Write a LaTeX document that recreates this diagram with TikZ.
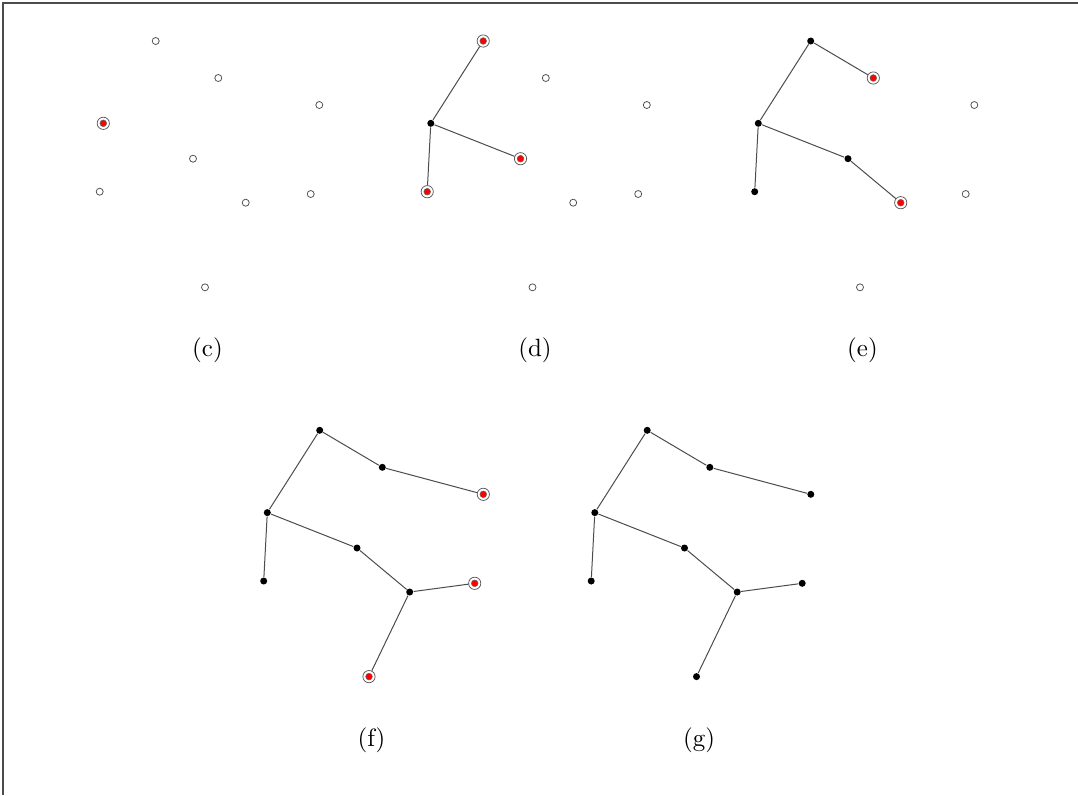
\documentclass[tikz,border=0pt]{standalone}
\begin{document}
\begin{tikzpicture}[x=0.4pt,y=-0.4pt,
  open/.style={circle,draw=black!70,fill=white,line width=0.3pt,inner sep=0pt,minimum size=2.8pt},
  blk/.style={circle,fill=black,inner sep=0pt,minimum size=2.8pt},
  sel/.style={circle,draw=black!65,line width=0.3pt,inner sep=0pt,minimum size=4.9pt,
    path picture={\fill[red,draw=black!60,line width=0.2pt] (path picture bounding box.center) circle (1.35pt);}},
  conn/.style={draw=black!70,line width=0.4pt},
  caplbl/.style={font=\normalsize}]
\useasboundingbox (0,0) rectangle (1078,795);
\draw[line width=0.8pt,black!70] (2.5,795) -- (2.5,3) -- (1078,3);
\def\pts{1/155.7/41, 2/218.3/78, 3/319.3/105, 4/103.3/123.3, 5/193/158.7, 6/99.7/191.7, 7/245.7/202.7, 8/310.7/194, 9/205/287.3}
% (c)
\begin{scope}[s1/.style=open,s2/.style=open,s3/.style=open,s4/.style=sel,s5/.style=open,s6/.style=open,s7/.style=open,s8/.style=open,s9/.style=open]
  \foreach \i/\x/\y in \pts {\node[s\i] (c\i) at (\x,\y) {};}
  \node[caplbl] (lc) at (207.5,350) {(c)};
\end{scope}
% (d)
\begin{scope}[shift={(327.5,0)},s1/.style=sel,s2/.style=open,s3/.style=open,s4/.style=blk,s5/.style=sel,s6/.style=sel,s7/.style=open,s8/.style=open,s9/.style=open]
  \foreach \i/\x/\y in \pts {\node[s\i] (d\i) at (\x,\y) {};}
  \node[caplbl] (ld) at (207.5,350) {(d)};
\end{scope}
\draw[conn] (d4) -- (d1);
\draw[conn] (d4) -- (d5);
\draw[conn] (d4) -- (d6);
% (e)
\begin{scope}[shift={(655,0)},s1/.style=blk,s2/.style=sel,s3/.style=open,s4/.style=blk,s5/.style=blk,s6/.style=blk,s7/.style=sel,s8/.style=open,s9/.style=open]
  \foreach \i/\x/\y in \pts {\node[s\i] (e\i) at (\x,\y) {};}
  \node[caplbl] (le) at (207.5,350) {(e)};
\end{scope}
\draw[conn] (e4) -- (e1);
\draw[conn] (e1) -- (e2);
\draw[conn] (e4) -- (e5);
\draw[conn] (e5) -- (e7);
\draw[conn] (e4) -- (e6);
% (f)
\begin{scope}[shift={(164,389.3)},s1/.style=blk,s2/.style=blk,s3/.style=sel,s4/.style=blk,s5/.style=blk,s6/.style=blk,s7/.style=blk,s8/.style=sel,s9/.style=sel]
  \foreach \i/\x/\y in \pts {\node[s\i] (f\i) at (\x,\y) {};}
  \node[caplbl] (lf) at (207.5,351) {(f)};
\end{scope}
\draw[conn] (f4) -- (f1);
\draw[conn] (f1) -- (f2);
\draw[conn] (f2) -- (f3);
\draw[conn] (f4) -- (f5);
\draw[conn] (f5) -- (f7);
\draw[conn] (f7) -- (f8);
\draw[conn] (f7) -- (f9);
\draw[conn] (f4) -- (f6);
% (g)
\begin{scope}[shift={(491.5,389.3)},s1/.style=blk,s2/.style=blk,s3/.style=blk,s4/.style=blk,s5/.style=blk,s6/.style=blk,s7/.style=blk,s8/.style=blk,s9/.style=blk]
  \foreach \i/\x/\y in \pts {\node[s\i] (g\i) at (\x,\y) {};}
  \node[caplbl] (lg) at (207.5,351) {(g)};
\end{scope}
\draw[conn] (g4) -- (g1);
\draw[conn] (g1) -- (g2);
\draw[conn] (g2) -- (g3);
\draw[conn] (g4) -- (g5);
\draw[conn] (g5) -- (g7);
\draw[conn] (g7) -- (g8);
\draw[conn] (g7) -- (g9);
\draw[conn] (g4) -- (g6);
\end{tikzpicture}
\end{document}
